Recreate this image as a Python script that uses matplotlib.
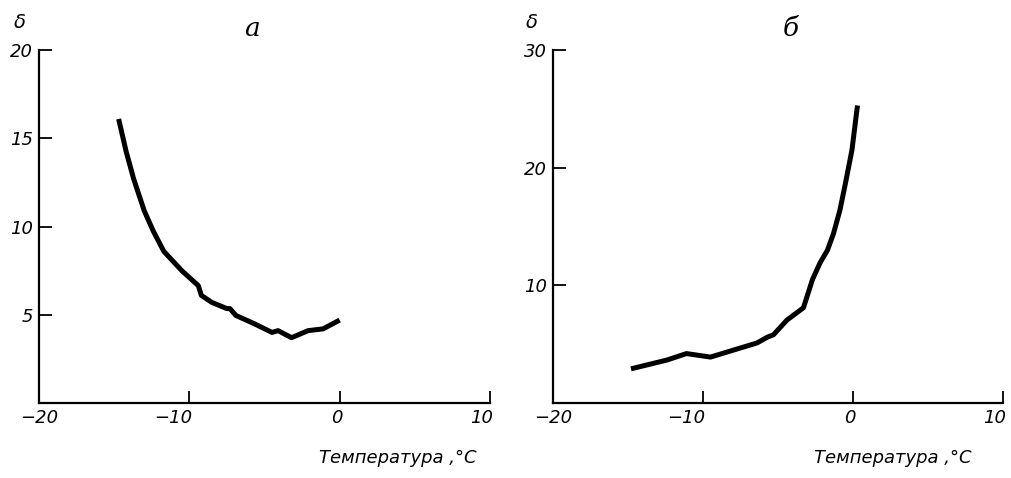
import numpy as np
import matplotlib
matplotlib.use("Agg")
import matplotlib.pyplot as plt
from matplotlib.font_manager import FontProperties
from matplotlib.transforms import ScaledTranslation

# panel a: delta vs temperature
temp_a = [-14.7, -14.2, -13.7, -13.0, -12.4, -11.7, -10.5, -9.4, -9.2, -8.5,
          -7.5, -7.3, -6.9, -5.7, -4.5, -4.1, -3.2, -2.1, -1.1, 0.0]
delta_a = [16.1, 14.25, 12.7, 10.9, 9.75, 8.6, 7.5, 6.65, 6.1, 5.7,
           5.35, 5.35, 4.96, 4.5, 4.0, 4.1, 3.7, 4.1, 4.2, 4.7]

# panel б
temp_b = [-14.8, -12.4, -11.1, -9.5, -7.7, -6.4, -5.7, -5.3, -4.4, -3.3,
          -2.7, -2.2, -1.7, -1.3, -0.87, -0.5, -0.07, 0.3]
delta_b = [2.9, 3.65, 4.2, 3.9, 4.6, 5.1, 5.6, 5.8, 7.05, 8.1,
           10.5, 11.9, 13.0, 14.4, 16.4, 18.7, 21.5, 25.3]

xticks = [-20, -10, 0, 10]
yticks_a = [5, 10, 15, 20]
yticks_b = [10, 20, 30]

tick_font = dict(family='DejaVu Sans', style='italic', size=13)
xlabel = 'Температура ,°С'

fig = plt.figure(figsize=(10.12, 4.78), dpi=100)
ax_a = fig.add_axes([0.0385, 0.157, 0.4457, 0.738])
ax_b = fig.add_axes([0.5464, 0.157, 0.4447, 0.738])

panels = [(ax_a, temp_a, delta_a, yticks_a, (0, 20)),
          (ax_b, temp_b, delta_b, yticks_b, (0, 30))]

for ax, x, y, yt, yl in panels:
    ax.plot(x, y, color='black', lw=3.6, solid_capstyle='butt',
            solid_joinstyle='round')
    ax.set_xlim(-20, 10)
    ax.set_ylim(*yl)
    ax.spines['top'].set_visible(False)
    ax.spines['right'].set_visible(False)
    for s in ['left', 'bottom']:
        ax.spines[s].set_linewidth(1.6)
    ax.set_xticks(xticks)
    ax.set_yticks(yt)
    ax.set_xticklabels([str(t).replace('-', '\u2212') for t in xticks])
    ax.set_yticklabels([str(t) for t in yt])
    ax.tick_params(direction='in', length=9, width=1.3, pad=4)
    for lab in ax.get_xticklabels() + ax.get_yticklabels():
        lab.set_fontproperties(FontProperties(**tick_font))
    # labels sit just left of their ticks, like the original drawing
    for lab in ax.get_xticklabels()[1:]:
        lab.set_horizontalalignment('right')
        lab.set_transform(lab.get_transform() +
                          ScaledTranslation(2 / 72, 0, fig.dpi_scale_trans))
    ax.patch.set_visible(False)

# axis symbols and panel letters
for xp in [20, 532]:
    fig.text(xp / 1012, 1 - 22 / 478, 'δ', ha='center', va='center',
             fontsize=14, style='italic')
fig.text(252 / 1012, 1 - 29 / 478, 'а', ha='center', va='center',
         fontsize=19, style='italic', family='DejaVu Serif')
fig.text(791 / 1012, 1 - 28 / 478, 'б', ha='center', va='center',
         fontsize=19, style='italic', family='DejaVu Serif')
fig.text(477 / 1012, 1 - 458 / 478, xlabel, ha='right', va='center', **tick_font)
fig.text(972 / 1012, 1 - 458 / 478, xlabel, ha='right', va='center', **tick_font)

fig.savefig('out.png', dpi=100)
